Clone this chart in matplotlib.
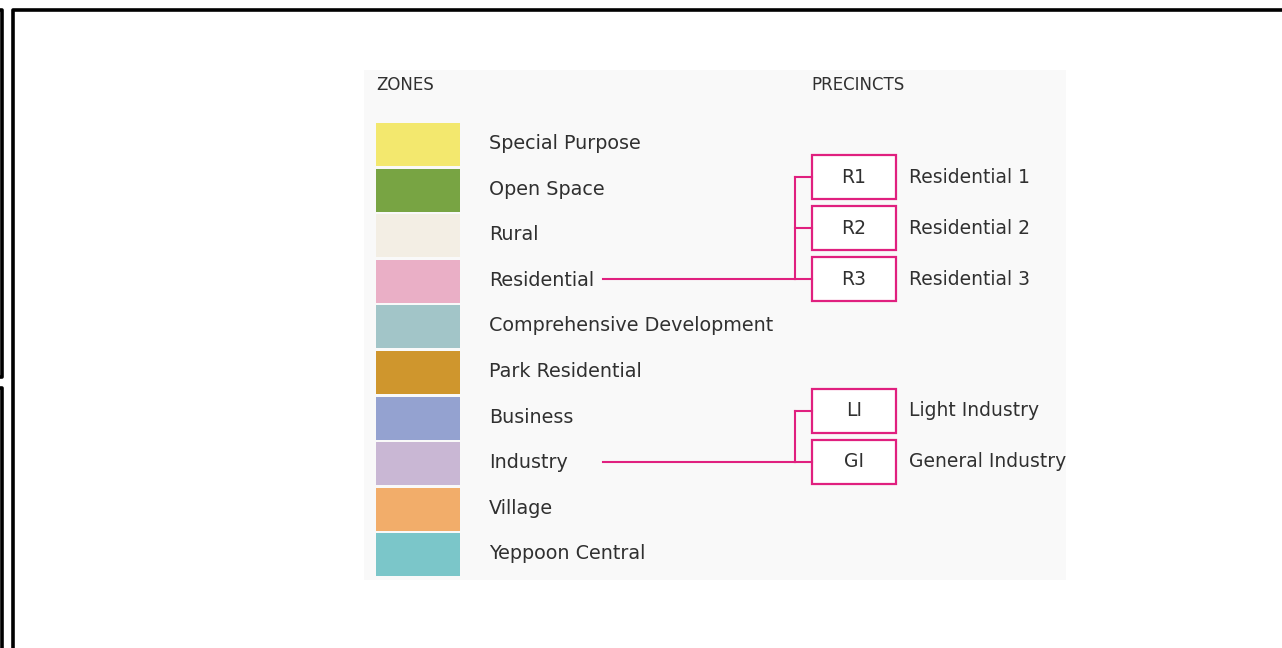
import matplotlib.pyplot as plt
from matplotlib.patches import Rectangle

# zones legend
zone_names = ['Special Purpose', 'Open Space', 'Rural', 'Residential',
              'Comprehensive Development', 'Park Residential', 'Business',
              'Industry', 'Village', 'Yeppoon Central']
zone_colors = ['#f3e86e', '#78a443', '#f3eee4', '#eaafc6', '#a2c5c8',
               '#cf962d', '#94a2d0', '#c9b7d4', '#f2ad6a', '#7bc6c9']

# precincts, attached to a zone
res_codes = ['R1', 'R2', 'R3']
res_names = ['Residential 1', 'Residential 2', 'Residential 3']
ind_codes = ['LI', 'GI']
ind_names = ['Light Industry', 'General Industry']
precinct_groups = [('Residential', res_codes, res_names),
                   ('Industry', ind_codes, ind_names)]

MAGENTA = '#e0207f'
TXT = '#303030'
FONT = 'DejaVu Sans'

fig = plt.figure(figsize=(12.82, 6.48), dpi=100)
ax = fig.add_axes([0, 0, 1, 1])
ax.set_xlim(0, 1282)
ax.set_ylim(648, 0)
ax.axis('off')

# picture frame
ax.plot([12.5, 12.5, 1282], [648, 9.5, 9.5], color='black', lw=2.6, solid_capstyle='butt')
ax.plot([-1, 2, 2, -1], [9.5, 9.5, 377, 377], color='black', lw=2.6)
ax.plot([-1, 2, 2], [388, 388, 648], color='black', lw=2.6)

# light panel behind the legend
ax.add_patch(Rectangle((364, 70), 702, 510, facecolor='#f9f9f9', edgecolor='none'))

ax.text(376, 85, 'ZONES', fontsize=12, color=TXT, va='center', family=FONT)
ax.text(811, 85, 'PRECINCTS', fontsize=12, color=TXT, va='center', family=FONT)

top, step, h = 123, 45.6, 43
centers = {}
for i, (name, col) in enumerate(zip(zone_names, zone_colors)):
    y0 = top + i * step
    ax.add_patch(Rectangle((376, y0), 84, h, facecolor=col, edgecolor='none'))
    ax.text(489, y0 + h / 2 - 1, name, fontsize=13.8, color=TXT, va='center', family=FONT)
    centers[name] = y0 + h / 2

box_x, box_w, box_h, gap = 812, 84, 44, 51
for zone, codes, names in precinct_groups:
    yz = centers[zone] - 2
    n = len(codes)
    ys = [yz - (n - 1 - k) * gap for k in range(n)]
    ax.plot([603, 795], [yz, yz], color=MAGENTA, lw=1.5)
    ax.plot([795, 795], [ys[0], ys[-1]], color=MAGENTA, lw=1.5)
    for code, name, yc in zip(codes, names, ys):
        ax.plot([795, box_x], [yc, yc], color=MAGENTA, lw=1.5)
        ax.add_patch(Rectangle((box_x, yc - box_h / 2), box_w, box_h, facecolor='white',
                               edgecolor=MAGENTA, lw=1.6))
        ax.text(box_x + box_w / 2, yc, code, fontsize=13.5, color=TXT, ha='center',
                va='center', family=FONT)
        ax.text(909, yc, name, fontsize=13.5, color=TXT, va='center', family=FONT)

fig.savefig('out.png', dpi=100, facecolor='white')
